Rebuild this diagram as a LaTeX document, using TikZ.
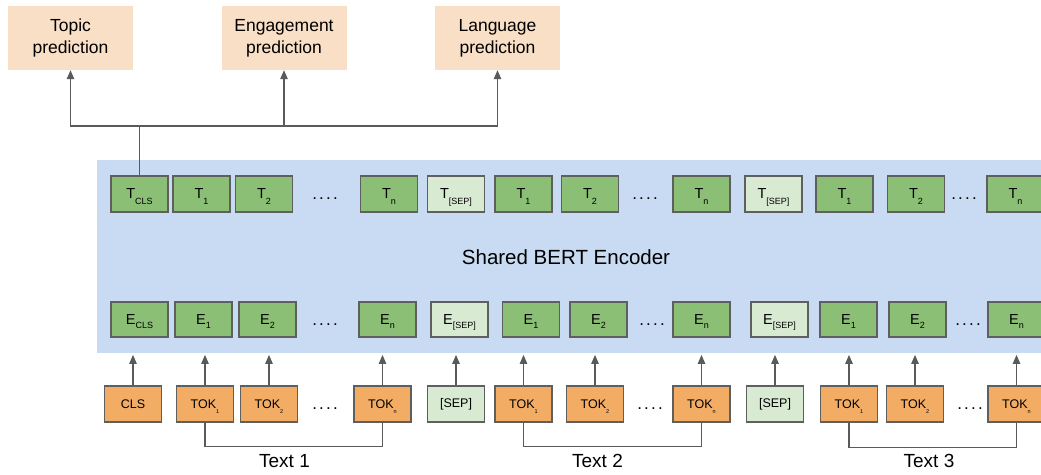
\documentclass[tikz,border=0pt]{standalone}
\usepackage{fontspec}
\setmainfont{Liberation Sans}
\usetikzlibrary{arrows.meta}

\definecolor{predfill}{HTML}{F9DFC5}
\definecolor{encfill}{HTML}{C9DBF2}
\definecolor{embgreen}{HTML}{8ABF75}
\definecolor{sepgreen}{HTML}{D9EAD3}
\definecolor{tokorange}{HTML}{F2AC63}
\definecolor{edge}{HTML}{5F5F5F}
\definecolor{wire}{HTML}{5A5A5A}

% label with a lowered subscript: #1 base letter, #2 subscript, #3 drop, #4 size
\newcommand\dropsub[4]{#1\smash{\raisebox{-#3pt}{\fontsize{#4}{#4}\selectfont #2}}}
\newcommand\Tl[1]{\dropsub{T}{#1}{5.5}{9}}
\newcommand\El[1]{\dropsub{E}{#1}{4}{9}}
\newcommand\Kl[1]{\dropsub{TOK}{#1}{5}{5.5}}
% spaced ellipsis between cells
\newcommand\fourdots{.\hspace{2.2pt}.\hspace{2.2pt}.\hspace{2.2pt}.}

\tikzset{
  cell/.style={draw=edge, line width=1.1pt, minimum width=57pt, inner sep=0pt,
               font=\fontsize{14.5}{16}\selectfont},
  outcell/.style={cell, fill=embgreen, minimum height=36pt},
  outsep/.style={cell, fill=sepgreen, minimum height=36pt},
  embcell/.style={cell, fill=embgreen, minimum height=35pt},
  embsep/.style={cell, fill=sepgreen, minimum height=35pt},
  tokcell/.style={cell, fill=tokorange, minimum height=36pt, font=\fontsize{12.5}{14}\selectfont},
  toksep/.style={cell, fill=sepgreen, minimum height=36pt, font=\fontsize{12.5}{14}\selectfont},
  predbox/.style={fill=predfill, minimum width=125pt, minimum height=64pt, inner sep=0pt,
                  align=center, font=\fontsize{17.5}{22}\selectfont},
  dots/.style={inner sep=0pt, font=\fontsize{17}{17}\selectfont},
  caption/.style={inner sep=0pt, font=\fontsize{19}{22}\selectfont},
  wireline/.style={draw=wire, line width=1.2pt},
  arrowline/.style={wireline, -{Triangle[length=9pt,width=7.5pt]}},
}

\begin{document}
\begin{tikzpicture}[x=1pt, y=-1pt]
\clip (0,0) rectangle (1041,474);
\fill[white] (0,0) rectangle (1041,474);

% task heads
\node[predbox] (topic) at (70.5,38) {Topic\\prediction};
\node[predbox] (engage) at (284,38) {Engagement\\prediction};
\node[predbox] (lang) at (497.5,38) {Language\\prediction};

% shared encoder
\node[fill=encfill, minimum width=960pt, minimum height=193pt, inner sep=0pt, anchor=north west]
  (enc) at (97,160) {};
\node[inner sep=0pt, font=\fontsize{20.5}{24}\selectfont] (enclabel) at (566,257) {Shared BERT Encoder};

% output row
\node[outcell] (tcls) at (139.5,194) {\Tl{CLS}};
\node[outcell] (ta1) at (201.5,194) {\Tl{1}};
\node[outcell] (ta2) at (264,194) {\Tl{2}};
\node[dots] (tdotsa) at (325,199) {\fourdots};
\node[outcell] (tan) at (389,194) {\Tl{n}};
\node[outsep] (tsepa) at (456,194) {\Tl{[SEP]}};
\node[outcell] (tb1) at (523.5,194) {\Tl{1}};
\node[outcell] (tb2) at (590,194) {\Tl{2}};
\node[dots] (tdotsb) at (645,199) {\fourdots};
\node[outcell] (tbn) at (701.5,194) {\Tl{n}};
\node[outsep] (tsepb) at (773.5,194) {\Tl{[SEP]}};
\node[outcell] (tc1) at (844.5,194) {\Tl{1}};
\node[outcell] (tc2) at (916,194) {\Tl{2}};
\node[dots] (tdotsc) at (964,199) {\fourdots};
\node[outcell] (tcn) at (1015.5,194) {\Tl{n}};

% embedding row
\node[embcell] (ecls) at (139.5,319.5) {\El{CLS}};
\node[embcell] (ea1) at (203.5,319.5) {\El{1}};
\node[embcell] (ea2) at (267.5,319.5) {\El{2}};
\node[dots] (edotsa) at (325,325) {\fourdots};
\node[embcell] (ean) at (387.5,319.5) {\El{n}};
\node[embsep] (esepa) at (459.5,319.5) {\El{[SEP]}};
\node[embcell] (eb1) at (531,319.5) {\El{1}};
\node[embcell] (eb2) at (598.5,319.5) {\El{2}};
\node[dots] (edotsb) at (652,325) {\fourdots};
\node[embcell] (ebn) at (701.5,319.5) {\El{n}};
\node[embsep] (esepb) at (779.5,319.5) {\El{[SEP]}};
\node[embcell] (ec1) at (848.5,319.5) {\El{1}};
\node[embcell] (ec2) at (917.5,319.5) {\El{2}};
\node[dots] (edotsc) at (968,325) {\fourdots};
\node[embcell] (ecn) at (1016.5,319.5) {\El{n}};

% input tokens
\node[tokcell] (cls) at (133,404) {CLS};
\node[tokcell] (ka1) at (205,404) {\Kl{1}};
\node[tokcell] (ka2) at (269,404) {\Kl{2}};
\node[dots] (kdotsa) at (325,409) {\fourdots};
\node[tokcell] (kan) at (382.5,404) {\Kl{n}};
\node[toksep] (sepa) at (456,404) {[SEP]};
\node[tokcell] (kb1) at (523.5,404) {\Kl{1}};
\node[tokcell] (kb2) at (595,404) {\Kl{2}};
\node[dots] (kdotsb) at (650,409) {\fourdots};
\node[tokcell] (kbn) at (701.5,404) {\Kl{n}};
\node[toksep] (sepb) at (775,404) {[SEP]};
\node[tokcell] (kc1) at (849,404) {\Kl{1}};
\node[tokcell] (kc2) at (915,404) {\Kl{2}};
\node[dots] (kdotsc) at (970,409) {\fourdots};
\node[tokcell] (kcn) at (1016.5,404) {\Kl{n}};

% token arrows into the encoder
\foreach \k in {cls,ka1,ka2,kan,sepa,kb1,kb2,kbn,sepb,kc1,kc2,kcn}
  \draw[arrowline, shorten >=1.5pt] (\k.north) -- (\k.north |- enc.south);

% segment brackets and captions
\draw[wireline] (ka1.south) -- ([yshift=-24pt]ka1.south) -| (kan.south);
\draw[wireline] (kb1.south) -- ([yshift=-24pt]kb1.south) -| (kbn.south);
\draw[wireline] (kc1.south) -- ([yshift=-25pt]kc1.south) -| (kcn.south);
\node[caption] (text1) at (284.5,461) {Text 1};
\node[caption] (text2) at (597.5,461) {Text 2};
\node[caption] (text3) at (929,461) {Text 3};

% CLS output feeding the three heads
\coordinate (hub) at (139.5,126);
\draw[wireline] (tcls.north) -- (hub);
\draw[arrowline] (hub) -| (topic.south);
\draw[arrowline] (hub) -| (lang.south);
\draw[arrowline] (engage.south |- hub) -- (engage.south);
\end{tikzpicture}
\end{document}
